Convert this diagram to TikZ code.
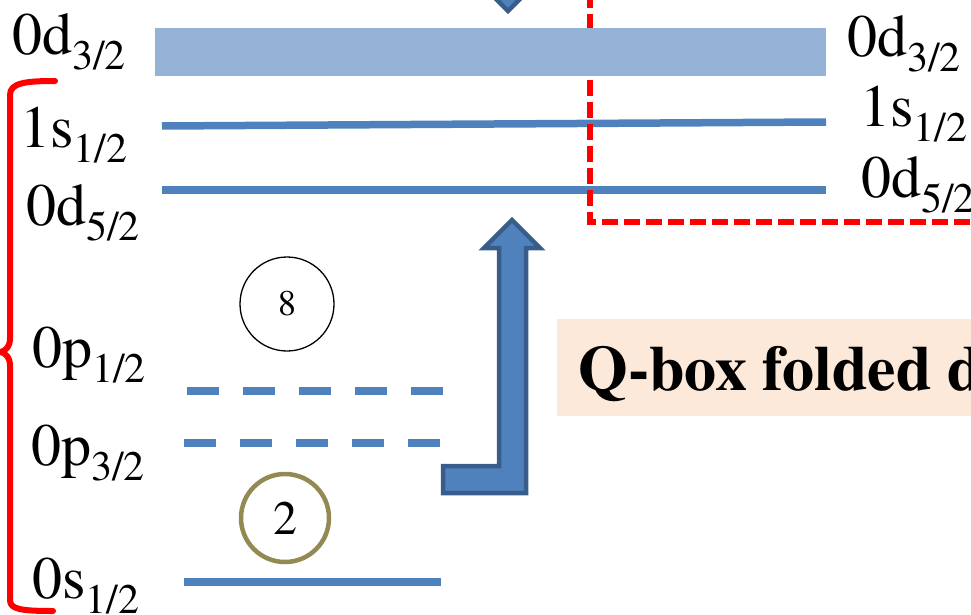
\documentclass[tikz,border=0pt]{standalone}
\usepackage{fontspec}
\setmainfont{texgyretermes}[Extension=.otf, UprightFont=*-regular, BoldFont=*-bold, ItalicFont=*-italic, BoldItalicFont=*-bolditalic]
\definecolor{barlight}{HTML}{95B3D7}
\definecolor{lvlblue}{HTML}{4F81BD}
\definecolor{arrowedge}{HTML}{385D8A}
\definecolor{olive}{HTML}{938953}
\definecolor{peach}{HTML}{FDE9D9}
% orbital label: main part plus lowered subscript
\newcommand\orb[2]{#1\raisebox{-15pt}{\fontsize{42}{42}\selectfont #2}}
\tikzset{
  lvl/.style={draw=lvlblue, line width=7.5pt},
  lvldash/.style={lvl, dash pattern=on 32pt off 24pt},
  reddash/.style={draw=red, line width=6pt, dash pattern=on 16pt off 6pt},
  orblabel/.style={anchor=base west, inner sep=0pt, font=\fontsize{60}{60}\selectfont},
  blockarrow/.style={fill=lvlblue, draw=arrowedge, line width=4.5pt, line join=miter},
}
\begin{document}
\begin{tikzpicture}[x=1pt, y=-1pt]
\useasboundingbox (0,0) rectangle (971,615);
\clip (0,0) rectangle (971,615);

% sd-shell single-particle lines
\draw[lvl] (162,126) -- (826,122);
\draw[lvl] (162,190) -- (826,190);

% red dashed frame around the upper model space
\coordinate (fTop) at (590,-8);
\coordinate (fCorner) at (590,222);
\coordinate (fRight) at (990,222);
\draw[reddash] (fTop) -- (fCorner) -- (fRight);

% broad 0d3/2 level
\fill[barlight] (155,28) rectangle (826,76);

% p-shell and s-shell levels
\draw[lvldash] (187,391) -- (443,391);
\draw[lvldash] (184,443) -- (440,443);
\draw[lvl] (184,582) -- (441,582);

% occupation circles
\node[circle, draw=black, line width=1.3pt, minimum size=94pt, inner sep=0pt,
      font=\fontsize{36}{36}\selectfont] (n8) at (287,304) {8};
\node[circle, draw=olive, line width=4.5pt, minimum size=88pt, inner sep=0pt,
      font=\fontsize{48}{48}\selectfont] (n2) at (285,518) {2};

% folding arrow from the core up to the valence space
\draw[blockarrow] (443,466) -- (499,466) -- (499,248) -- (484,248) -- (512,220)
   -- (540,248) -- (526,248) -- (526,493) -- (443,493) -- cycle;

% tip of the downward arrow entering from above
\draw[blockarrow] (499,-30) -- (499,-4) -- (493,-4) -- (508,11) -- (523,-4)
   -- (517,-4) -- (517,-30) -- cycle;

% red curly brace spanning the core levels
\draw[red, line width=6pt, line cap=round, line join=round]
  (55,81) .. controls (25,81) and (10,83) .. (10,95) -- (10,338)
  .. controls (10,347) and (6,350) .. (1,352)
  .. controls (6,354) and (10,357) .. (10,366) -- (10,600)
  .. controls (10,609) and (20,611) .. (53,611);

% left labels
\node[orblabel] (l0d3) at (12,55) {\orb{0d}{3/2}};
\node[orblabel] (l1s1) at (20,147) {\orb{1s}{1/2}};
\node[orblabel] (l0d5) at (26,225) {\orb{0d}{5/2}};
\node[orblabel] (l0p1) at (32,367) {\orb{0p}{1/2}};
\node[orblabel] (l0p3) at (31,465) {\orb{0p}{3/2}};
\node[orblabel] (l0s1) at (32,598) {\orb{0s}{1/2}};

% right labels
\node[orblabel] (r0d3) at (847,57) {\orb{0d}{3/2}};
\node[orblabel] (r1s1) at (860,127) {\orb{1s}{1/2}};
\node[orblabel] (r0d5) at (861,197) {\orb{0d}{5/2}};

% caption box
\fill[peach] (557,319) rectangle (990,416);
\node[anchor=base west, inner sep=0pt, font=\fontsize{64}{64}\selectfont\bfseries]
  (qbox) at (578,390) {Q-box folded d};
\end{tikzpicture}
\end{document}
